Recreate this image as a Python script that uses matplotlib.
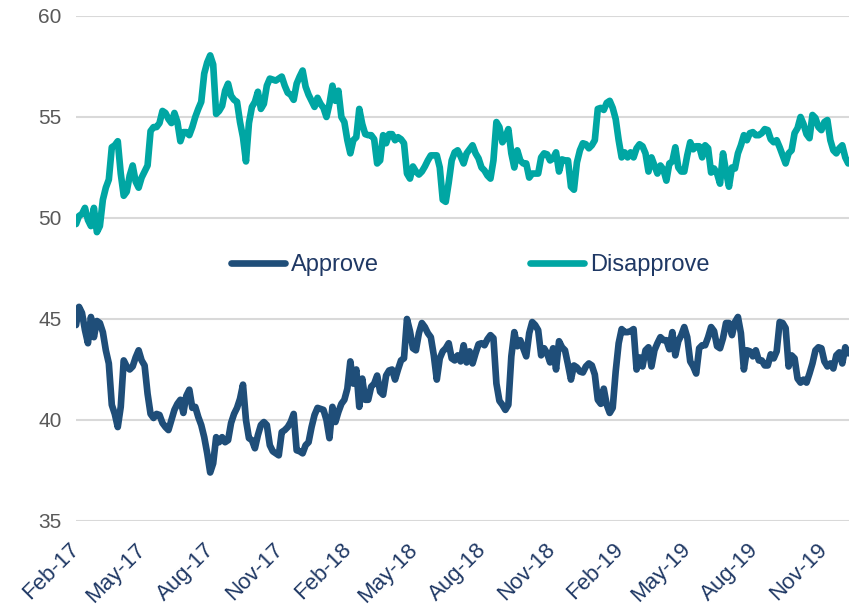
import matplotlib
matplotlib.use("Agg")
import matplotlib.pyplot as plt
import matplotlib.dates as mdates
import matplotlib.transforms as mtrans
import pandas as pd

# poll averages, one reading every 4 days from 1 Feb 2017
dates = pd.date_range("2017-02-01", periods=260, freq="4D")

disapprove = [
    49.7, 50.1, 50.2, 50.5, 49.9, 49.6, 50.5, 49.3, 49.6, 50.9,
    51.5, 51.9, 53.5, 53.6, 53.8, 52.2, 51.1, 51.3, 52.1, 52.6,
    51.8, 51.5, 52.0, 52.3, 52.6, 54.3, 54.5, 54.5, 54.7, 55.3,
    55.2, 54.9, 54.7, 55.2, 54.75, 53.8, 54.25, 54.25, 54.1, 54.5,
    55.0, 55.4, 55.75, 57.15, 57.7, 58.05, 57.6, 55.15, 55.3, 55.55,
    56.3, 56.65, 56.05, 55.85, 55.75, 54.75, 54.0, 52.8, 54.7, 55.5,
    55.75, 56.25, 55.4, 55.65, 56.55, 56.9, 56.85, 56.8, 56.9, 57.0,
    56.55, 56.2, 56.1, 55.85, 56.65, 57.0, 57.3, 56.5, 56.1, 55.8,
    55.5, 55.95, 55.65, 55.45, 55.0,
    55.65, 56.55, 55.8, 56.3, 55.0, 54.75, 53.85, 53.2, 53.85, 54.0,
    55.4, 54.65, 54.15, 54.1, 54.1, 53.9, 52.7, 52.85, 54.1, 53.7,
    54.15, 54.15, 53.85, 54.0, 53.9, 53.7, 52.2, 51.95, 52.55, 52.3,
    52.15, 52.3, 52.55, 52.85, 53.1, 53.1, 53.1, 52.5, 50.9, 50.8,
    51.75, 52.85, 53.25, 53.35, 53.05, 52.7, 53.2, 53.4, 53.6, 53.2,
    52.95, 52.5, 52.35, 52.1, 51.95, 52.85, 54.75, 54.5, 53.75, 54.0,
    54.4, 53.2, 52.5, 53.35, 52.85, 52.7, 52.7, 52.0, 52.2, 52.2,
    52.2, 53.0, 53.2, 53.15, 52.85, 52.95, 53.25, 52.3, 52.9, 52.85,
    52.85, 51.55, 51.4, 52.75, 53.35, 53.7, 53.65,
    53.45, 53.6, 53.85, 55.4, 55.45, 55.35, 55.7, 55.8, 55.45, 54.9,
    53.85, 53.0, 53.25, 53.0, 53.25, 53.0, 53.45, 53.65, 53.55, 53.2,
    52.3, 53.0, 52.6, 52.2, 52.6, 52.4, 51.85, 52.7, 52.8, 53.5,
    52.5, 52.3, 52.3, 53.1, 53.75, 53.4, 53.55, 53.55, 53.0, 53.6,
    53.45, 52.25, 52.45, 52.2, 51.7, 53.2, 52.3, 51.55, 52.5, 52.45,
    53.2, 53.6, 54.1, 53.85, 54.2, 54.25, 54.1, 54.1, 54.2, 54.4,
    54.35, 53.9, 53.75, 53.85, 53.5, 53.1, 52.7, 53.2, 53.35, 54.2,
    54.45, 55.0, 54.65, 54.15, 53.95, 55.1, 54.95, 54.5, 54.35, 54.75,
    54.85, 53.85, 53.35, 53.2, 53.45, 53.6, 53.0, 52.7,
]

approve = [
    44.7, 45.6, 45.3, 44.45, 43.8, 45.1, 44.1, 44.9, 44.8, 44.35,
    43.45, 42.8, 40.75, 40.3, 39.65, 40.65, 42.95, 42.65, 42.5, 42.65,
    43.1, 43.45, 42.95, 42.7, 41.3, 40.3, 40.1, 40.3, 40.25, 39.85,
    39.65, 39.5, 40.0, 40.5, 40.8, 41.0, 40.35, 41.2, 41.5, 40.6,
    40.65, 40.15, 39.75, 39.15, 38.35, 37.4, 37.85, 39.15, 38.9, 39.15,
    38.9, 39.0, 39.85, 40.3, 40.6, 41.05, 41.75, 40.0, 39.1, 39.0,
    38.6, 39.25, 39.75, 39.9, 39.75, 38.75, 38.45, 38.35, 38.25, 39.4,
    39.5, 39.65, 39.9, 40.3, 38.5, 38.45, 38.35, 38.75, 38.9, 39.65,
    40.25, 40.6, 40.55, 40.5, 40.0,
    39.1, 40.65, 39.9, 40.4, 40.8, 41.0, 41.55, 42.9, 41.8, 42.5,
    40.65, 42.05, 41.0, 41.0, 41.65, 41.8, 42.2, 41.4, 41.25, 42.2,
    42.45, 42.5, 42.0, 42.5, 42.95, 43.05, 45.0, 44.4, 43.55, 43.45,
    44.3, 44.8, 44.6, 44.3, 44.1, 43.2, 42.0, 43.05, 43.4, 43.55,
    43.8, 43.05, 42.95, 43.2, 42.9, 43.7, 42.85, 43.4, 42.8, 43.3,
    43.75, 43.8, 43.7, 44.0, 44.2, 44.05, 41.8, 40.95, 40.75, 40.5,
    40.75, 43.15, 44.35, 43.65, 43.95, 43.55, 43.15, 44.3, 44.85, 44.7,
    44.45, 43.2, 43.55, 43.3, 42.85, 43.55, 42.5, 43.9, 43.6, 43.45,
    42.75, 42.0, 42.7, 42.6, 42.4, 42.35, 42.65,
    42.8, 42.7, 42.25, 41.0, 40.8, 41.55, 40.75, 40.35, 40.6, 42.4,
    43.8, 44.5, 44.35, 44.35, 44.4, 44.5, 42.5, 43.1, 42.65, 43.45,
    43.6, 42.65, 43.45, 43.8, 44.1, 43.95, 43.95, 43.5, 44.35, 43.2,
    43.9, 44.2, 44.6, 44.1, 42.9, 42.65, 42.3, 43.55, 43.7, 43.7,
    44.1, 44.6, 44.4, 43.65, 43.55, 44.05, 44.8, 44.8, 44.2, 44.85,
    45.1, 44.3, 42.5, 43.45, 43.4, 43.15, 43.45, 42.95, 42.95, 42.7,
    42.7, 43.25, 43.05, 43.4, 44.85, 44.8, 44.55, 42.65, 43.2, 43.05,
    42.05, 41.85, 42.0, 41.85, 42.3, 42.8, 43.45, 43.6, 43.55, 42.9,
    42.65, 42.8, 42.55, 43.2, 43.35, 42.8, 43.6, 43.3,
]

yticks = [35, 40, 45, 50, 55, 60]

navy = "#1F4E79"
teal = "#00A6A3"

plt.rcParams["font.family"] = ["Liberation Sans", "DejaVu Sans"]

fig = plt.figure(figsize=(8.58, 6.08), dpi=100)
ax = fig.add_axes([0.0886, 0.1431, 0.9009, 0.8306])

ax.plot(dates, approve, color=navy, lw=4.8, label="Approve",
        solid_joinstyle="round", solid_capstyle="round")
ax.plot(dates, disapprove, color=teal, lw=4.8, label="Disapprove",
        solid_joinstyle="round", solid_capstyle="round")

ax.set_ylim(35, 60)
ax.set_yticks(yticks)
ax.set_xlim(pd.Timestamp("2017-02-01"), pd.Timestamp("2019-12-05"))
ax.xaxis.set_major_locator(mdates.MonthLocator(bymonth=[2, 5, 8, 11]))
ax.xaxis.set_major_formatter(mdates.DateFormatter("%b-%y"))

ax.grid(axis="y", color="#D9D9D9", lw=1.5)
ax.set_axisbelow(True)
for s in ax.spines.values():
    s.set_visible(False)
ax.tick_params(axis="both", length=0)
ax.tick_params(axis="y", labelsize=15, labelcolor="#595959", pad=10.5)
ax.tick_params(axis="x", labelsize=16, labelcolor="#1F3864", pad=13)

shift = mtrans.ScaledTranslation(-7 / 100, 0, fig.dpi_scale_trans)
for lab in ax.get_xticklabels():
    lab.set_rotation(45)
    lab.set_ha("right")
    lab.set_rotation_mode("anchor")
    lab.set_transform(lab.get_transform() + shift)

leg = ax.legend(loc="center", bbox_to_anchor=(0.51, 0.507), ncol=2, frameon=False,
                fontsize=17, handlelength=2.3, handletextpad=0.25, columnspacing=6.4)
for t in leg.get_texts():
    t.set_color("#1F3864")
for h in leg.get_lines():
    h.set_linewidth(4.8)

fig.savefig("out.png", dpi=100)
